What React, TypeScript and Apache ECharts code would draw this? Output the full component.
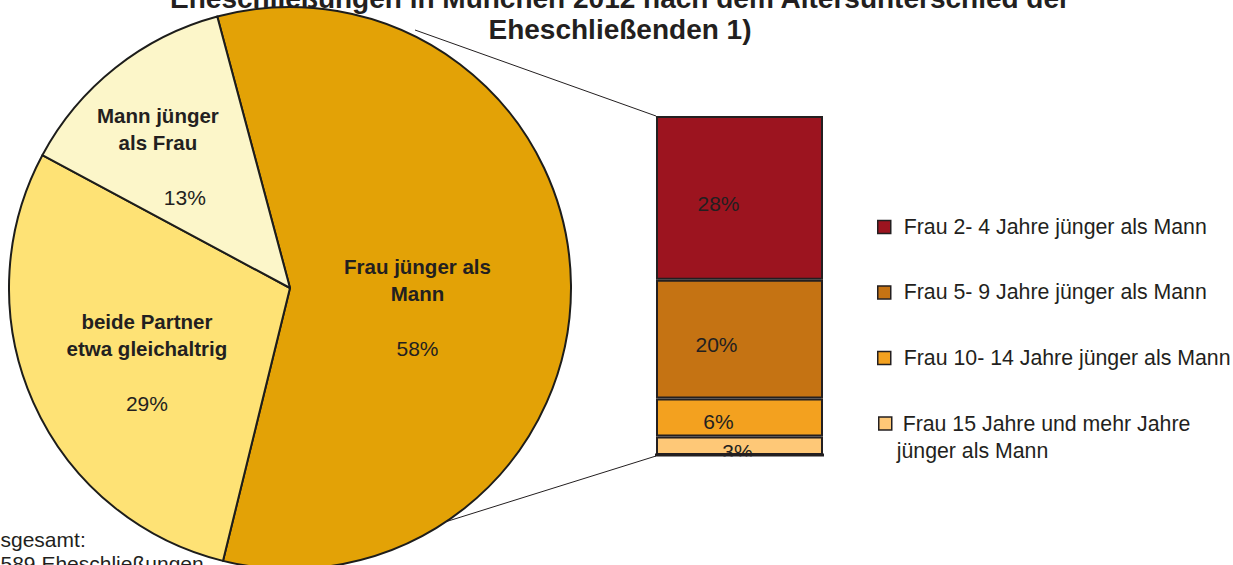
import React, { useEffect, useRef } from "react";
import * as echarts from "echarts";

const titleText = "Eheschließungen in München 2012 nach dem Altersunterschied der\nEheschließenden 1)";
const footnoteText = "Insgesamt:\n6 589 Eheschließungen";

const pieNames = ["Frau jünger als\nMann", "beide Partner\netwa gleichaltrig", "Mann jünger\nals Frau"];
const pieValues = [58, 29, 13];
const pieColors = ["#e3a206", "#fee275", "#fcf6c9"];

const barCategory = ["Frau jünger als Mann"];
const barNames = [
  "Frau 2- 4 Jahre jünger als Mann",
  "Frau 5- 9 Jahre jünger als Mann",
  "Frau 10- 14 Jahre jünger als Mann",
  "Frau 15 Jahre und mehr Jahre\njünger als Mann",
];
const barValues = [27.6, 20, 6.4, 3.1];
const barColors = ["#9c141f", "#c57313", "#f3a11f", "#fec877"];

const FONT = "'Liberation Sans', Arial, Helvetica, sans-serif";
const INK = "#231f20";

export default function App() {
  const ref = useRef<HTMLDivElement>(null);
  useEffect(() => {
    if (!ref.current) return;
    const chart = echarts.init(ref.current, null, { renderer: "svg" });
    const barSum = barValues.reduce((a, b) => a + b, 0);
    const pieOffsets = [[-16, 21], [-12, 16], [-43, -19]];
    const barOffsets = [[-21, 6], [-23, 5], [-21, 4], [-2, 6]];
    const legendCenters = [227, 292.4, 358, 423.5];

    // stacked order: bottom first
    const order = [3, 2, 1, 0];
    const barSeries = order.map((i) => ({
      type: "bar",
      name: barNames[i],
      stack: "total",
      xAxisIndex: 0,
      yAxisIndex: 0,
      barWidth: "100%",
      data: [barValues[i]],
      silent: true,
      itemStyle: { color: barColors[i], borderColor: INK, borderWidth: 2 },
      label: {
        show: true,
        position: "inside",
        offset: barOffsets[i],
        color: INK,
        fontSize: 21,
        fontFamily: FONT,
        formatter: (p: any) => Math.round(p.value) + "%",
      },
    }));

    const legends = barNames.map((n, i) => {
      const last = i === 3;
      const lh = last ? 27 : 24;
      const h = last ? lh * 3 : lh;
      return {
        data: [n],
        orient: "vertical",
        left: last ? 878 : 877,
        top: legendCenters[i] - h / 2,
        padding: 0,
        itemWidth: last ? 13 : 29,
        itemHeight: 13,
        icon: "path://M0,0L10,0L10,10L0,10Z",
        selectedMode: false,
        itemStyle: { borderColor: INK, borderWidth: 1.5 },
        textStyle: { fontSize: 21.3, lineHeight: lh, color: INK, fontFamily: FONT },
        formatter: last ? (name: string) => "\n\u00a0" + name : "{name}",
      };
    });

    chart.setOption({
      animation: false,
      grid: { left: 656, top: 116, width: 167, height: 339 },
      xAxis: { type: "category", data: barCategory, show: false },
      yAxis: { type: "value", min: 0, max: barSum, show: false },
      legend: legends,
      series: [
        {
          type: "pie",
          center: [290, 288],
          radius: 281,
          startAngle: 105,
          clockwise: true,
          silent: true,
          data: pieNames.map((n, i) => ({
            name: n,
            value: pieValues[i],
            itemStyle: { color: pieColors[i] },
            label: { offset: pieOffsets[i] },
          })),
          itemStyle: { borderColor: "#1d1d1b", borderWidth: 2 },
          labelLine: { show: false },
          label: {
            show: true,
            position: "inside",
            color: INK,
            fontFamily: FONT,
            fontSize: 21,
            lineHeight: 27.5,
            formatter: (p: any) =>
              `{b|${p.name}}\n\n{${p.dataIndex === 2 ? "q" : "p"}|${p.value}%}`,
            rich: {
              b: { fontWeight: "bold", fontSize: 20.5, lineHeight: 27.5, color: INK, fontFamily: FONT },
              p: { fontSize: 21, lineHeight: 27.5, color: INK, fontFamily: FONT },
              q: { fontSize: 21, lineHeight: 27.5, color: INK, fontFamily: FONT, padding: [0, 0, 0, 54] },
            },
          },
        },
        ...barSeries,
      ],
      graphic: [
        {
          type: "line",
          shape: { x1: 415, y1: 30, x2: 656, y2: 116 },
          style: { stroke: INK, lineWidth: 1 },
          z: 50,
        },
        {
          type: "line",
          shape: { x1: 445, y1: 522, x2: 656, y2: 456 },
          style: { stroke: INK, lineWidth: 1 },
          z: 50,
        },
        {
          type: "rect",
          shape: { x: 657, y: 456.5, width: 170, height: 20 },
          style: { fill: "#ffffff" },
          z: 100,
        },
        {
          type: "line",
          shape: { x1: 655, y1: 455, x2: 824, y2: 455 },
          style: { stroke: INK, lineWidth: 3 },
          z: 101,
        },
        {
          type: "text",
          x: 620,
          y: 13.5,
          z: 100,
          style: {
            text: titleText,
            textAlign: "center",
            textVerticalAlign: "middle",
            fontSize: 28,
            fontWeight: "bold",
            lineHeight: 31,
            fontFamily: FONT,
            fill: INK,
          },
        },
        {
          type: "text",
          x: -17,
          y: 527,
          z: 100,
          style: {
            text: footnoteText,
            textAlign: "left",
            textVerticalAlign: "top",
            fontSize: 21,
            lineHeight: 24,
            fontFamily: FONT,
            fill: INK,
          },
        },
      ],
    });
    return () => chart.dispose();
  }, []);
  return (
    <div
      ref={ref}
      style={{ position: "fixed", left: 0, top: 0, width: 1233, height: 565, background: "#ffffff" }}
    />
  );
}
